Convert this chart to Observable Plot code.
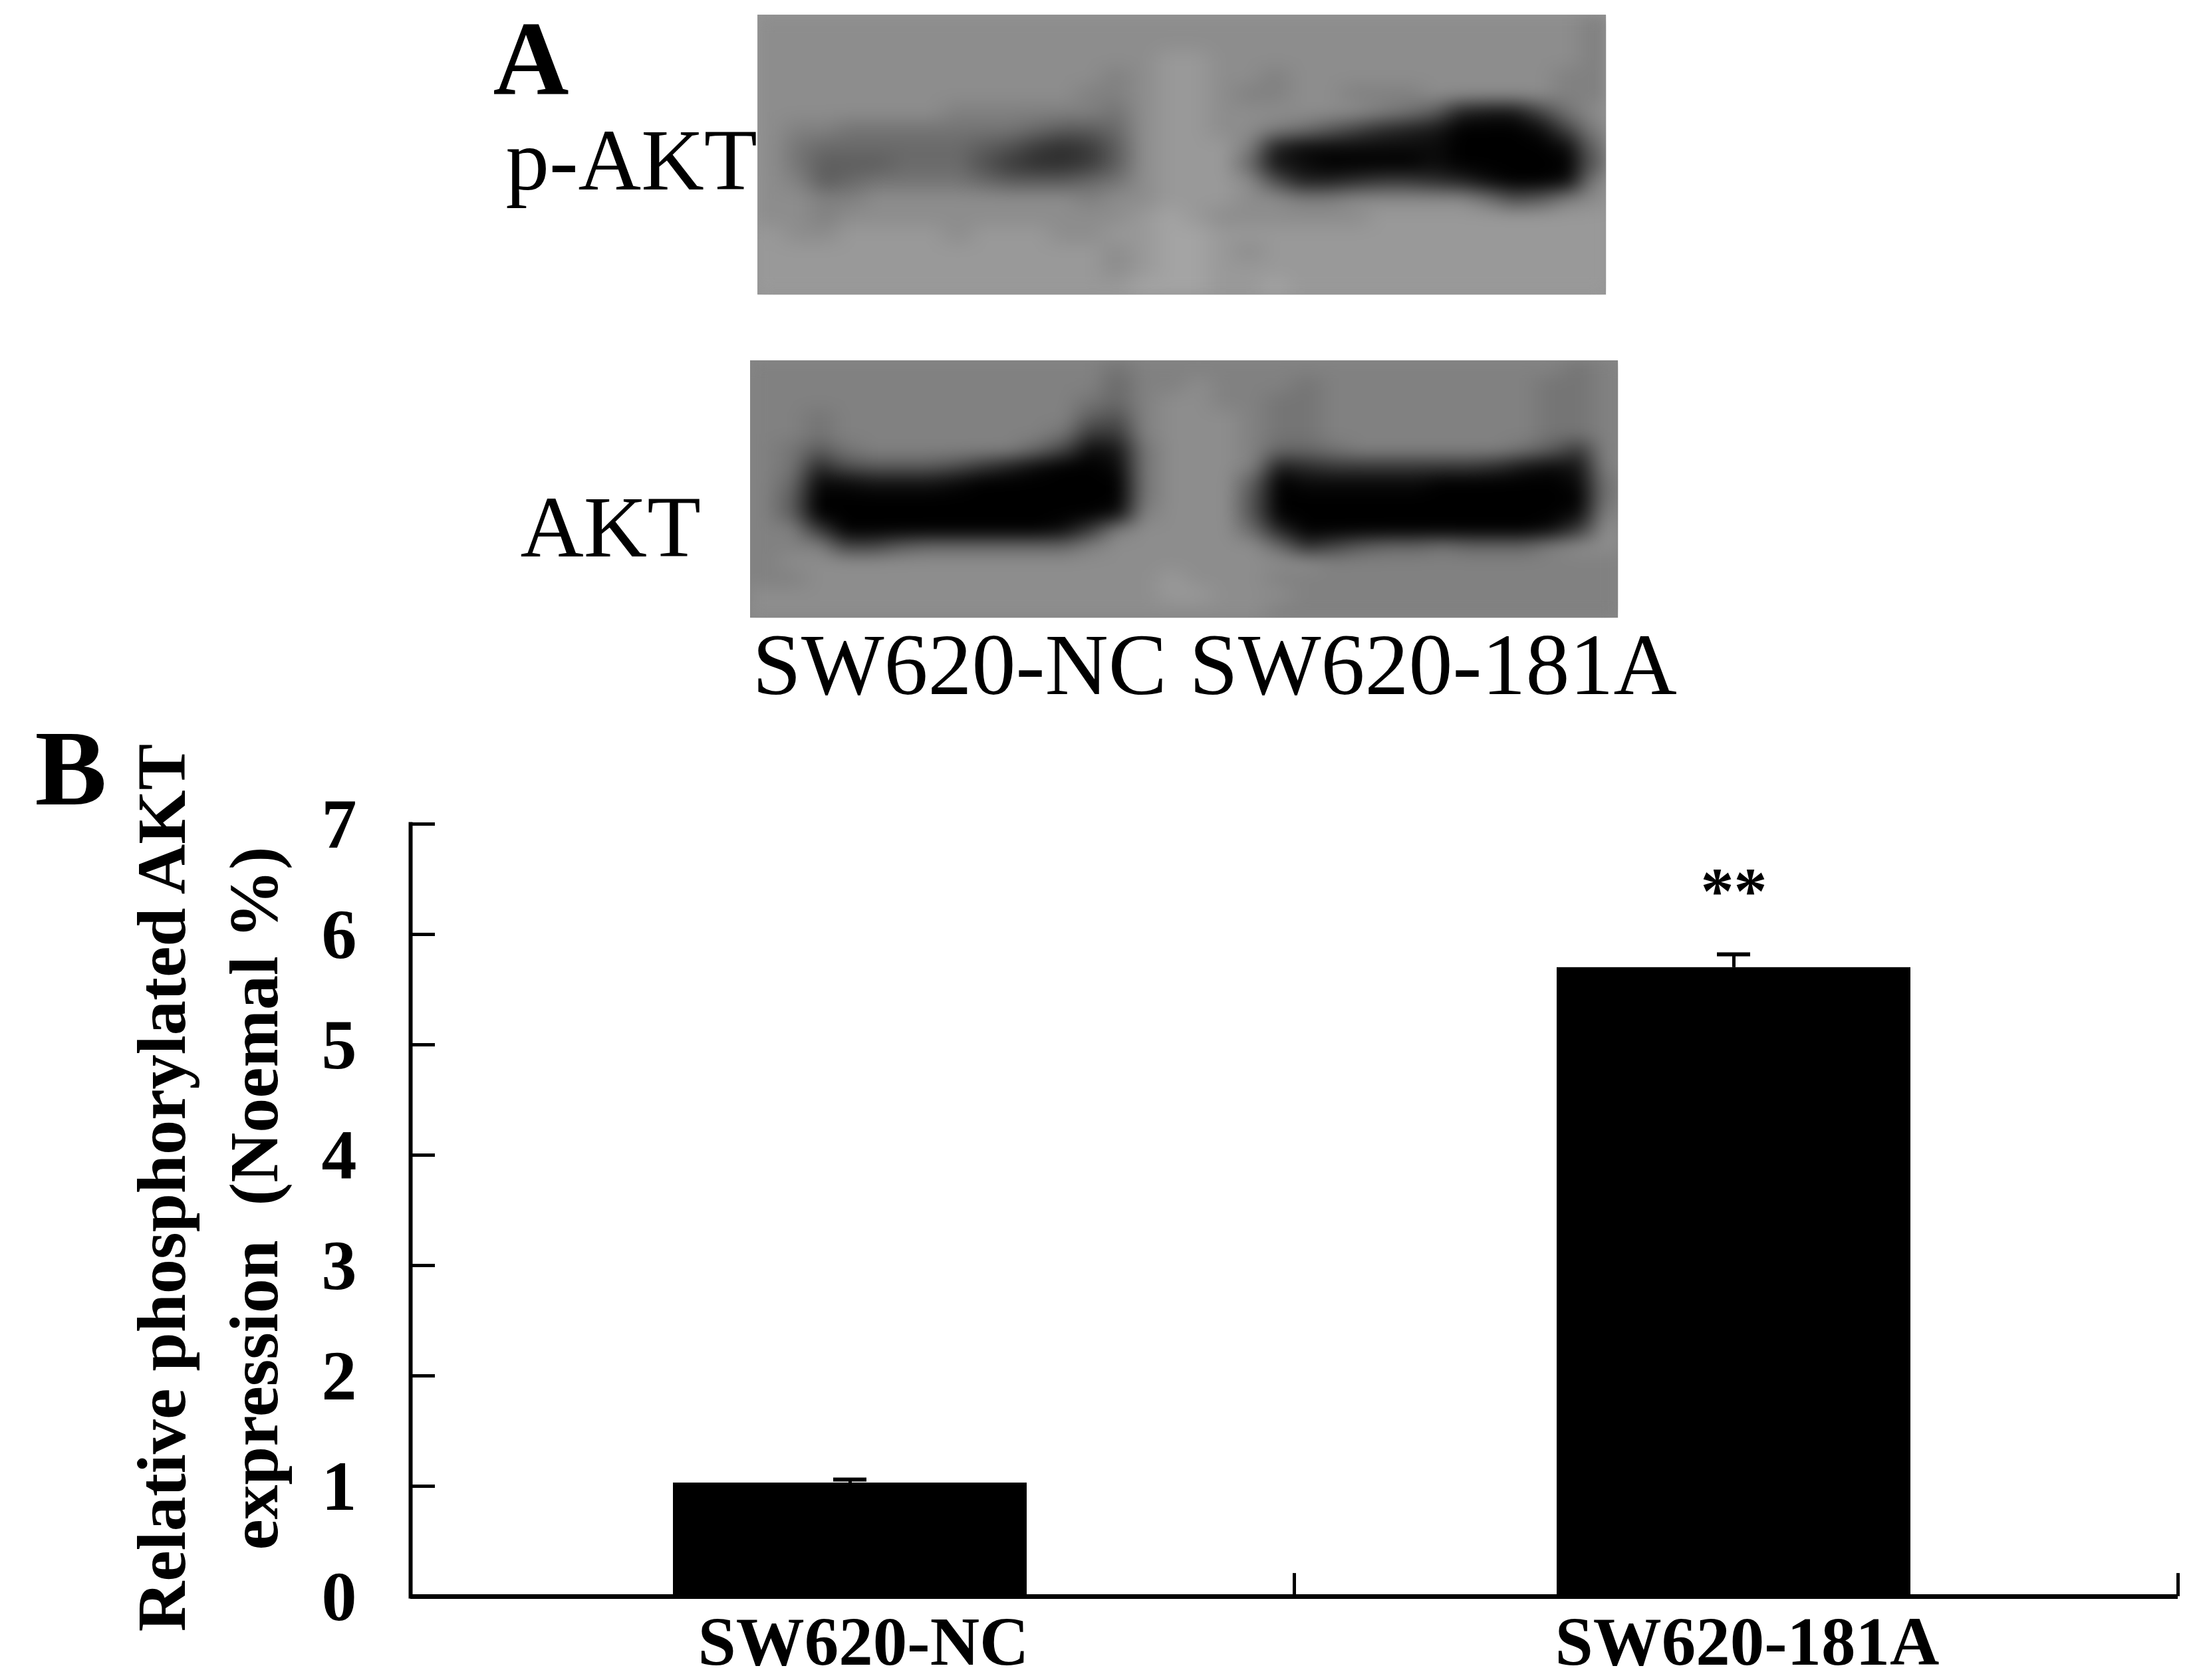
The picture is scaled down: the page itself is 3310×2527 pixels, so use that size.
<!DOCTYPE html>
<html>
<head>
<meta charset="utf-8">
<style>
html,body{margin:0;padding:0;background:#fff;}
svg{display:block;background:transparent;}
</style>
<script src="https://cdn.jsdelivr.net/npm/d3@7"></script>
<script src="https://cdn.jsdelivr.net/npm/@observablehq/plot@0.6"></script>
</head>
<body>
<div id="chart"></div>
<script>
// ---- Panel B values
const groups = ["SW620-NC", "SW620-181A"];
const means = [1.03, 5.70];
const errors = [0.03, 0.12];
const significance = ["", "**"];
const yTicks = [0, 1, 2, 3, 4, 5, 6, 7];
const yTitleLines = ["Relative phosphorylated AKT", "expression \u00a0(Noemal %)"];

// ---- Panel A labels
const blotRows = ["p-AKT", "AKT"];

// ---- Panel A blots: gray level per cell (hex digit, 0 = black)
const pAktBlot = [
"cccc cccc cccc cccc cccc cccc cccc cccb",
"cccc cccc cccc cccc cccc cccc cccc cccb",
"cccc cccc cccc cccd dccc cccc cccc cccb",
"cccc cccc cccc cbcd dccb cccc cccc ccbb",
"cccc cccc cccc bbcd dcbb ccbb bccc ccbb",
"cccc cccb bbbb bacd dccc cccb a832 26ac",
"cbba aaaa aa98 89cd dccb a864 3200 016b",
"ca99 9999 8754 58cd ddb3 1111 1100 0019",
"ca88 8999 7544 58cd dd92 1000 0100 0008",
"cb89 aaaa 9888 9acd ddc7 3345 5431 001b",
"ccbb cccc cccc bccd ddcc bbcc ccca 78bc",
"ccbc cccc cccc ccde dccc cccd dddd dddd",
"dccd dddc dddc cdde eddd dddd dddd dddd",
"dddd dddd dddd dcde edcd dddd dddd dddd",
"dddd dddd dddd dcde eddd dddd dddd dddd",
"dddd dddd dddd ddee edde dddd dddd dddd"
];
const aktBlot = [
"bbbb bbbb bbbb babb bbbb bbbb bbbb bbab",
"bbbb bbbb bbbb b9bb cbbb abbb bbbb baab",
"bbbb bbbb bbbb a9bc cbba abbb bbbb baab",
"bbab bbbb bbbb 87bc ccba abbb bbbb baab",
"bbab bbbb bbba 55bc ccba abbb bbbb baab",
"ba8a bbbb bb96 12ac ccb9 9abb bbbb a85b",
"ba47 8887 5310 01ac ccb3 4555 5554 212b",
"b911 2221 0000 00ac cc80 1111 1000 001a",
"b800 0000 0000 00ac cc70 0000 0000 000a",
"b800 0000 0000 01bc cc70 0000 0000 001b",
"bb50 0000 0001 5bcc cc93 0000 0000 015c",
"bbb6 6899 9999 bccc ccc9 4689 9a99 9bcc",
"bccc cccc cccc cccc cccc cbbb bbbb bbbb",
"bbcc cccc cccc cccd cccb bbbb bbbb bbbb",
"cccc cccc cccc cccd dccc bbbb bbbb bbbb",
"cccc cccc cccc cccc cccb bbbb bbbb bbbb"
];

const decode = rows => rows.join("").replace(/ /g, "").split("").map(c => parseInt(c, 16));

const SERIF = "Liberation Serif, Times New Roman, serif";
const panelAHeight = 1090;
const panelBTop = 1060;
const panelBHeight = 2527 - panelBTop;

// text placed by left edge and baseline in page pixels
function pageText(txt, left, baseline, size, weight, ox, oy, anchor = "start") {
  return Plot.text([txt], {
    text: d => d,
    frameAnchor: "top-left",
    textAnchor: anchor,
    lineAnchor: "middle",
    dx: left - ox,
    dy: baseline - oy - 0.32 * size,
    fontFamily: SERIF,
    fontSize: size,
    fontWeight: weight,
    fill: "#000"
  });
}

const panelA = Plot.plot({
  width: 3310, height: panelAHeight,
  marginTop: 0, marginRight: 0, marginBottom: 0, marginLeft: 0,
  x: {domain: [0, 3310], axis: null},
  y: {domain: [panelAHeight, 0], axis: null},
  color: {type: "linear", domain: [0, 15], range: ["#000000", "#b0b0b0"]},
  marks: [
    Plot.rect([0], {x1: () => 1139, x2: () => 2415, y1: () => 22, y2: () => 443, fill: () => 12.7}),
    Plot.rect([0], {x1: () => 1128, x2: () => 2433, y1: () => 542, y2: () => 929, fill: () => 11.4}),
    Plot.raster(decode(pAktBlot), {width: 32, height: 16, x1: 1139, x2: 2415, y1: 22, y2: 443}),
    Plot.raster(decode(aktBlot), {width: 32, height: 16, x1: 1128, x2: 2433, y1: 542, y2: 929}),
    pageText("A", 741, 141, 158, "bold", 0, 0),
    pageText(blotRows[0], 760, 284, 131, "normal", 0, 0),
    pageText(blotRows[1], 782, 836, 132, "normal", 0, 0),
    pageText(groups[0], 1131, 1043, 132, "normal", 0, 0),
    pageText(groups[1], 1788, 1043, 132, "normal", 0, 0)
  ]
});
// soften the coarse blot cells, keeping the panel edges crisp
d3.select(panelA).selectAll("image").style("filter", "blur(11px)").style("clip-path", "inset(0)");

const mL = 617, mR = 35, mT = 1239 - panelBTop, mB = 126;
const rows = groups.map((g, i) => ({group: g, mean: means[i], hi: means[i] + errors[i], sig: significance[i]}));
const frameW = 3310 - mL - mR;

const panelB = Plot.plot({
  width: 3310, height: panelBHeight,
  marginTop: mT, marginRight: mR, marginBottom: mB, marginLeft: mL,
  x: {type: "band", domain: groups, paddingInner: 0.6, paddingOuter: 0.3, align: 0.495, axis: null},
  y: {domain: [0, 7], axis: null},
  marks: [
    Plot.barY(rows, {x: "group", y: "mean", fill: "#000"}),
    Plot.ruleX(rows, {x: "group", y1: "mean", y2: "hi", stroke: "#000", strokeWidth: 5}),
    Plot.tickY(rows, {x: "group", y: "hi", insetLeft: 241, insetRight: 241, stroke: "#000", strokeWidth: 6}),
    Plot.text(rows, {x: "group", y: () => 6.39, text: "sig", fontFamily: SERIF, fontSize: 100, fontWeight: "bold", fill: "#000"}),
    Plot.ruleY([0], {stroke: "#000", strokeWidth: 7}),
    Plot.frame({anchor: "left", stroke: "#000", strokeWidth: 6}),
    Plot.tickY(yTicks, {y: d => d, insetRight: frameW - 37, stroke: "#000", strokeWidth: 5}),
    Plot.ruleX(groups, {x: d => d, y1: 0, y2: 0.21, dx: 668, stroke: "#000", strokeWidth: 5}),
    Plot.axisY({ticks: yTicks, tickFormat: d3.format("d"), tickSize: 0, tickPadding: 81, dy: 2, fontSize: 106, fontWeight: "bold", fontFamily: SERIF, fill: "#000", label: null}),
    Plot.axisX({tickSize: 0, tickPadding: 29, dx: 20, fontSize: 103, fontWeight: "bold", fontFamily: SERIF, fill: "#000", label: null}),
    pageText("B", 52, 1209, 162, "bold", mL, 1239),
    Plot.text([yTitleLines[0]], {text: d => d, frameAnchor: "top-left", rotate: -90, textAnchor: "middle", lineAnchor: "middle",
      dx: 244 - mL, dy: 1786 - 1239, fontFamily: SERIF, fontSize: 104.5, fontWeight: "bold", fill: "#000"}),
    Plot.text([yTitleLines[1]], {text: d => d, frameAnchor: "top-left", rotate: -90, textAnchor: "middle", lineAnchor: "middle",
      dx: 383 - mL, dy: 1802 - 1239, fontFamily: SERIF, fontSize: 104, fontWeight: "bold", fill: "#000"})
  ]
});
panelB.style.marginTop = (panelBTop - panelAHeight) + "px";
panelB.style.position = "relative";

const chart = document.getElementById("chart");
chart.append(panelA, panelB);
</script>
</body>
</html>
